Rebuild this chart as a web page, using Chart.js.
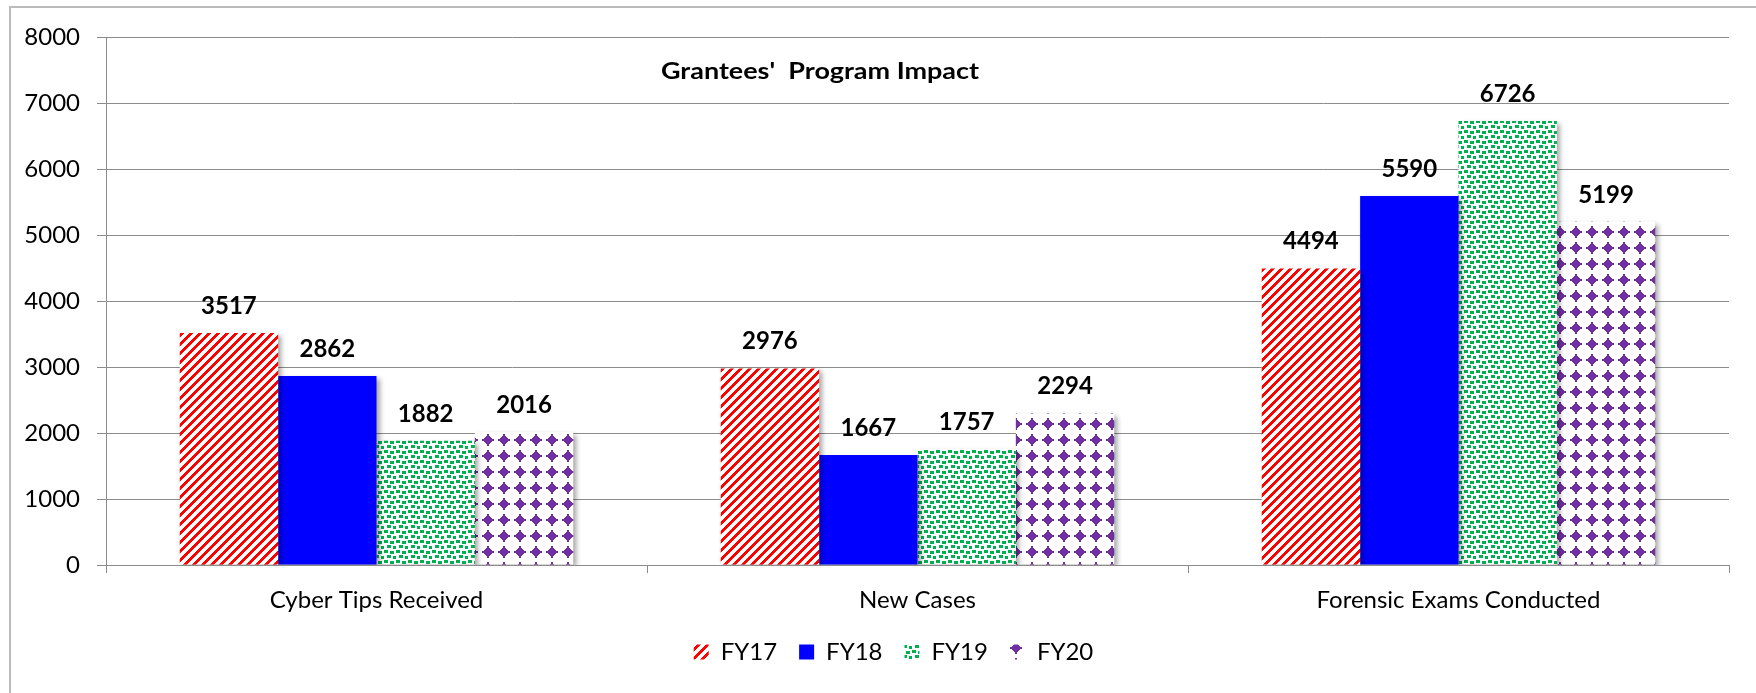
<!DOCTYPE html>
<html>
<head>
<meta charset="utf-8">
<script src="https://cdn.jsdelivr.net/npm/chart.js"></script>
<style>
  body { margin: 0; background: #fff; }
  #wrap { width: 1756px; height: 693px; }
</style>
</head>
<body>
<div id="wrap"><canvas id="chart" width="1756" height="693"></canvas></div>
<script>
const categories = ["Cyber Tips Received", "New Cases", "Forensic Exams Conducted"];
const seriesNames = ["FY17", "FY18", "FY19", "FY20"];
const fy17 = [3517, 2976, 4494];
const fy18 = [2862, 1667, 5590];
const fy19 = [1882, 1757, 6726];
const fy20 = [2016, 2294, 5199];
const chartTitle = "Grantees'  Program Impact";

// pattern tiles, a bit like the Excel fills
function tile(w, h, fn) {
    const c = document.createElement("canvas");
    c.width = w; c.height = h;
    const g = c.getContext("2d");
    g.fillStyle = "#fff";
    g.fillRect(0, 0, w, h);
    fn(g);
    return g.createPattern(c, "repeat");
}

const stripes = tile(9, 9, g => {
    g.fillStyle = "#ff0000";
    for (let y = 0; y < 9; y++)
        for (let x = 0; x < 9; x++)
            if ((x + y) % 9 < 4) g.fillRect(x, y, 1, 1);
});

const confetti = tile(12, 10, g => {
    g.fillStyle = "#00b050";
    [[0, 0], [6, 1], [3, 5], [9, 6]].forEach(p => g.fillRect(p[0], p[1], 4, 3));
});

const diamonds = tile(16, 16, g => {
    g.fillStyle = "#7030a0";
    for (let y = 0; y < 16; y++)
        for (let x = 0; x < 16; x++) {
            const dx = Math.abs(x + 0.5 - 8), dy = Math.abs(y + 0.5 - 8);
            if (dx + dy <= 5 || (dx <= 1 && dy <= 6) || (dy <= 1 && dx <= 6)) g.fillRect(x, y, 1, 1);
        }
});

const fills = [stripes, "#0000ff", confetti, diamonds];
const values = [fy17, fy18, fy19, fy20];

const gridColor = "#8c8c8c";
const font = "Lato";

// outer frame + title
const framePlugin = {
    id: "frame",
    afterLayout(chart) {
        // nudge the legend row to where it sits in the original
        if (chart.legend) { chart.legend.left += 24; chart.legend.right += 24; }
    },
    beforeDraw(chart) {
        const ctx = chart.ctx;
        ctx.save();
        ctx.strokeStyle = "#bbbbbb";
        ctx.lineWidth = 2;
        ctx.beginPath();
        ctx.moveTo(10, 700);
        ctx.lineTo(10, 7);
        ctx.lineTo(1760, 7);
        ctx.stroke();
        ctx.restore();
    },
    afterDraw(chart) {
        const ctx = chart.ctx;
        ctx.save();
        ctx.font = "bold 23px " + font;
        ctx.fillStyle = "#000";
        ctx.textAlign = "center";
        ctx.textBaseline = "alphabetic";
        const w = ctx.measureText(chartTitle).width;
        ctx.translate(820, 79);
        ctx.scale(318 / w, 1);
        ctx.fillText(chartTitle, 0, 0);
        ctx.restore();
    }
};

// soft shadow under the bars
const shadowPlugin = {
    id: "shadow",
    beforeDatasetsDraw(chart) {
        const ctx = chart.ctx;
        ctx.save();
        ctx.shadowColor = "rgba(0,0,0,0.35)";
        ctx.shadowBlur = 5;
        ctx.shadowOffsetX = 3;
        ctx.shadowOffsetY = 3;
    },
    afterDatasetsDraw(chart) {
        chart.ctx.restore();
    }
};

// value labels above each bar
const labelPlugin = {
    id: "valueLabels",
    afterDatasetsDraw(chart) {
        const ctx = chart.ctx;
        ctx.save();
        ctx.font = "bold 24px " + font;
        ctx.fillStyle = "#000";
        ctx.textAlign = "center";
        ctx.textBaseline = "middle";
        chart.data.datasets.forEach((ds, i) => {
            chart.getDatasetMeta(i).data.forEach((bar, j) => {
                ctx.fillText(String(ds.data[j]), bar.x, bar.y - 27);
            });
        });
        ctx.restore();
    }
};

new Chart(document.getElementById("chart"), {
    type: "bar",
    data: {
        labels: categories,
        datasets: seriesNames.map((name, i) => ({
            label: name,
            data: values[i],
            backgroundColor: fills[i],
            borderWidth: 0,
            categoryPercentage: 4 / 5.5,
            barPercentage: 1
        }))
    },
    options: {
        responsive: false,
        animation: false,
        devicePixelRatio: 1,
        layout: { padding: { top: 37, left: 10, right: 27, bottom: 19 } },
        plugins: {
            legend: {
                position: "bottom",
                labels: {
                    boxWidth: 15,
                    boxHeight: 15,
                    padding: 22,
                    color: "#000",
                    font: { family: font, size: 24 }
                }
            },
            tooltip: { enabled: false }
        },
        scales: {
            x: {
                grid: { display: true, drawOnChartArea: false, drawTicks: true, tickLength: 8, color: gridColor, offset: true },
                border: { color: gridColor },
                ticks: { color: "#000", padding: 13, font: { family: font, size: 24 } },
                afterFit(scale) { scale.height = 53; }
            },
            y: {
                min: 0,
                max: 8000,
                ticks: {
                    stepSize: 1000,
                    color: "#000",
                    padding: 17,
                    font: { family: font, size: 24 },
                    callback: v => String(v)
                },
                grid: { color: gridColor, tickLength: 9 },
                border: { color: gridColor },
                afterFit(scale) { scale.width = 96; }
            }
        }
    },
    plugins: [framePlugin, shadowPlugin, labelPlugin]
});
</script>
</body>
</html>
